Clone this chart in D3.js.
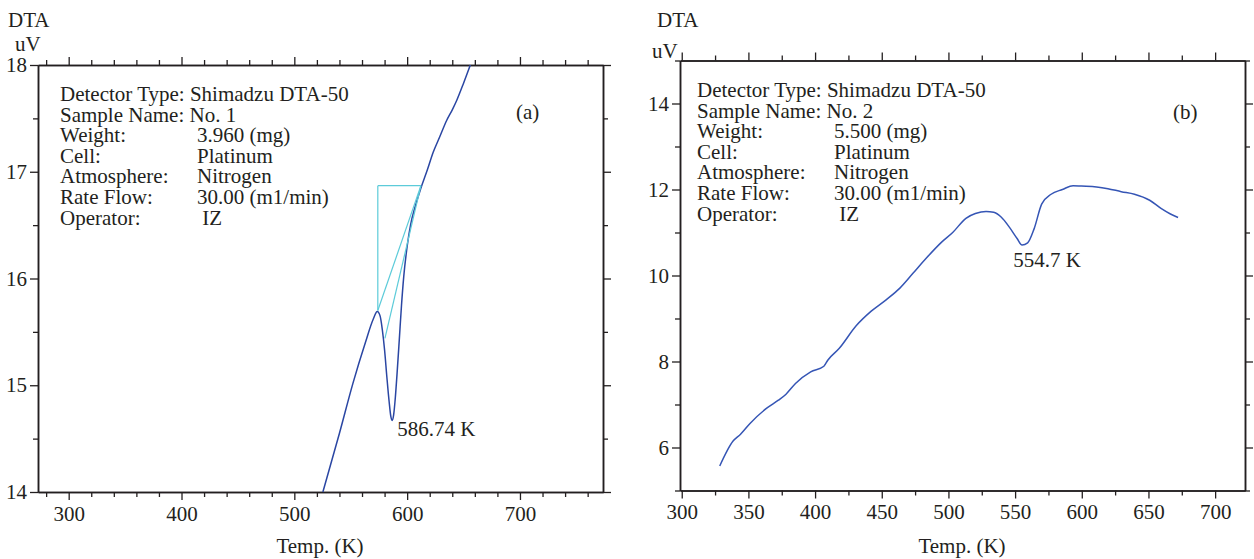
<!DOCTYPE html>
<html>
<head>
<meta charset="utf-8">
<script src="https://cdn.jsdelivr.net/npm/d3@7"></script>
<style>
  body { margin: 0; background: #fff; }
  svg { display: block; font-family: "Liberation Serif", "Times New Roman", Times, serif; }
  text { font-family: "Liberation Serif", "Times New Roman", Times, serif; fill: #231f20; }
</style>
</head>
<body>
<div id="chart"></div>
<script>
// ---- data ----
// panel (a): sample No. 1
var tempA = [525.3, 540, 552, 563, 570, 573.5, 576, 578, 580, 582, 584, 585.5, 586.7, 588, 589.5, 591, 593, 595, 597, 600, 603, 607, 612, 618, 623, 629, 635, 640, 644, 650, 656];
var dtaA  = [14.0, 14.55, 15.02, 15.4, 15.62, 15.69, 15.65, 15.52, 15.33, 15.08, 14.85, 14.71, 14.67, 14.72, 14.88, 15.1, 15.42, 15.75, 16.02, 16.3, 16.5, 16.67, 16.84, 17.02, 17.18, 17.33, 17.48, 17.58, 17.67, 17.83, 18.0];
// onset construction segments (cyan) in panel (a): start/end temperature and value
var onsetT1 = [574, 574, 612.2, 612.2];
var onsetV1 = [15.70, 16.87, 16.87, 16.87];
var onsetT2 = [574, 612.2, 574, 580.3];
var onsetV2 = [16.87, 16.87, 15.70, 15.44];

// panel (b): sample No. 2
var tempB = [328.5, 338.5, 344.1, 351.2, 364, 372.5, 378.2, 385.3, 396.7, 406.6, 409.5, 418, 430.8, 442.1, 453.5, 463.4, 473.4, 483.3, 494.7, 503.2, 513.1, 520.2, 528.2, 533.9, 539.5, 545.8, 551.5, 555.2, 559.4, 564.3, 569.9, 577, 585.5, 593.5, 599.7, 611.1, 619.6, 629.6, 639.5, 650.9, 659.4, 666.5, 672.2];
var dtaB  = [5.57, 6.15, 6.31, 6.56, 6.92, 7.10, 7.24, 7.49, 7.76, 7.89, 8.03, 8.30, 8.83, 9.17, 9.44, 9.70, 10.05, 10.40, 10.77, 11.0, 11.33, 11.44, 11.49, 11.47, 11.36, 11.12, 10.86, 10.71, 10.76, 11.09, 11.66, 11.89, 12.0, 12.09, 12.08, 12.06, 12.02, 11.95, 11.89, 11.75, 11.56, 11.43, 11.35];

// tick values
var xMajorA = [300, 400, 500, 600, 700];
var xMinorA = [280, 320, 340, 360, 380, 420, 440, 460, 480, 520, 540, 560, 580, 620, 640, 660, 680, 720, 740, 760];
var yMajorA = [14, 15, 16, 17, 18];
var yMinorA = [14.5, 15.5, 16.5, 17.5];
var xMajorB = [300, 350, 400, 450, 500, 550, 600, 650, 700];
var xMinorB = [325, 375, 425, 475, 525, 575, 625, 675];
var yMajorB = [6, 8, 10, 12, 14];
var yMinorB = [5, 7, 9, 11, 13, 15];

var infoLabelsA = ["Detector Type: Shimadzu DTA-50", "Sample Name: No. 1", "Weight:", "Cell:", "Atmosphere:", "Rate Flow:", "Operator:"];
var infoLabelsB = ["Detector Type: Shimadzu DTA-50", "Sample Name: No. 2", "Weight:", "Cell:", "Atmosphere:", "Rate Flow:", "Operator:"];
var infoValsA = ["", "", "3.960 (mg)", "Platinum", "Nitrogen", "30.00 (m1/min)", " IZ"];
var infoValsB = ["", "", "5.500 (mg)", "Platinum", "Nitrogen", "30.00 (m1/min)", " IZ"];

var W = 1254, H = 559;
var ink = "#231f20";
var svg = d3.select("#chart").append("svg").attr("width", W).attr("height", H);
svg.append("rect").attr("width", W).attr("height", H).attr("fill", "#fff");

function drawPanel(o) {
    var g = svg.append("g");
    var x = o.x, y = o.y;
    var x0 = x.range()[0], x1 = x.range()[1], y0 = y.range()[0], y1 = y.range()[1];
    var fmt = d3.format("d");

    function put(a, tf, labels) {
        var ag = g.append("g").attr("transform", tf).call(a.tickFormat(fmt).tickSizeOuter(0));
        ag.attr("font-size", null).attr("font-family", null);
        ag.selectAll("path.domain").attr("stroke", ink).attr("stroke-width", 1.5);
        ag.selectAll(".tick line").attr("stroke", ink).attr("stroke-width", 1.3);
        ag.selectAll(".tick text").style("font-size", "21px").attr("fill", ink);
        if (!labels) ag.selectAll(".tick text").remove();
        return ag;
    }
    var xin = o.xMinor.filter(function (v) { return v > x.domain()[0] && v < x.domain()[1]; });

    put(d3.axisBottom(x).tickValues(o.xMajor).tickSize(8).tickPadding(6), "translate(0," + y0 + ")", true);
    put(d3.axisBottom(x).tickValues(xin).tickSize(5), "translate(0," + y0 + ")", false);
    put(d3.axisTop(x).tickValues(o.xMajor).tickSize(8), "translate(0," + y1 + ")", false);
    put(d3.axisTop(x).tickValues(xin).tickSize(5), "translate(0," + y1 + ")", false);
    put(d3.axisLeft(y).tickValues(o.yMajor).tickSize(8).tickPadding(3), "translate(" + x0 + ",0)", true);
    put(d3.axisLeft(y).tickValues(o.yMinor).tickSize(5), "translate(" + x0 + ",0)", false);
    put(d3.axisRight(y).tickValues(o.yMajor).tickSize(8), "translate(" + x1 + ",0)", false);
    put(d3.axisRight(y).tickValues(o.yMinor).tickSize(5), "translate(" + x1 + ",0)", false);

    // axis titles
    g.append("text").attr("x", o.dtaX).attr("y", 27).style("font-size", "21px").text("DTA");
    g.append("text").attr("x", o.uvX).attr("y", o.uvY).style("font-size", "21px").text("uV");
    g.append("text").attr("x", o.titleX).attr("y", 553).attr("text-anchor", "middle").style("font-size", "21px").text("Temp. (K)");

    // info block
    var info = g.append("g").style("font-size", "21px");
    info.selectAll("text.lab").data(o.labels).enter().append("text")
        .attr("class", "lab").attr("x", x0 + o.infoDx).attr("y", function (d, i) { return o.infoY + i * 20.6; })
        .text(function (d) { return d; });
    info.selectAll("text.val").data(o.vals.filter(function (d) { return d; })).enter().append("text")
        .attr("class", "val").attr("x", x0 + o.valDx).attr("y", function (d, i) { return o.infoY + (i + 2) * 20.6; })
        .style("white-space", "pre").text(function (d) { return d; });
    g.append("text").attr("x", o.tagX).attr("y", 119).style("font-size", "21px").text(o.tag);

    // curve
    var pts = o.T.map(function (t, i) { return [t, o.V[i]]; });
    var line = d3.line().x(function (d) { return x(d[0]); }).y(function (d) { return y(d[1]); }).curve(d3.curveMonotoneX);
    g.append("path").datum(pts).attr("d", line).attr("fill", "none")
        .attr("stroke", o.color).attr("stroke-width", 1.5);
    return g;
}

var xA = d3.scaleLinear().domain([272.8, 773.6]).range([38, 603]);
var yA = d3.scaleLinear().domain([14, 18]).range([492, 65]);
var gA = drawPanel({
    x: xA, y: yA, xMajor: xMajorA, xMinor: xMinorA, yMajor: yMajorA, yMinor: yMinorA,
    T: tempA, V: dtaA, color: "#2a46a3",
    dtaX: 8, uvX: 15, uvY: 51, titleX: 320,
    labels: infoLabelsA, vals: infoValsA, infoDx: 22, valDx: 159, infoY: 101, tag: "(a)", tagX: 516
});

// onset construction
gA.selectAll("line.onset").data(onsetT1).enter().append("line")
    .attr("x1", function (d, i) { return xA(onsetT1[i]); }).attr("y1", function (d, i) { return yA(onsetV1[i]); })
    .attr("x2", function (d, i) { return xA(onsetT2[i]); }).attr("y2", function (d, i) { return yA(onsetV2[i]); })
    .attr("stroke", "#5ccbd9").attr("stroke-width", 1.2);
gA.append("text").attr("x", xA(586.74) + 5).attr("y", yA(14.67) + 16).style("font-size", "21px").text("586.74 K");

var xB = d3.scaleLinear().domain([298.7, 722.4]).range([680, 1245]);
var yB = d3.scaleLinear().domain([5, 15]).range([490.5, 60.5]);
var gB = drawPanel({
    x: xB, y: yB, xMajor: xMajorB, xMinor: xMinorB, yMajor: yMajorB, yMinor: yMinorB,
    T: tempB, V: dtaB, color: "#3555b5",
    dtaX: 657, uvX: 652, uvY: 58, titleX: 962,
    labels: infoLabelsB, vals: infoValsB, infoDx: 17, valDx: 154, infoY: 97, tag: "(b)", tagX: 1173
});
gB.append("text").attr("x", xB(554.7) - 8).attr("y", yB(10.71) + 22).style("font-size", "21px").text("554.7 K");
</script>
</body>
</html>
